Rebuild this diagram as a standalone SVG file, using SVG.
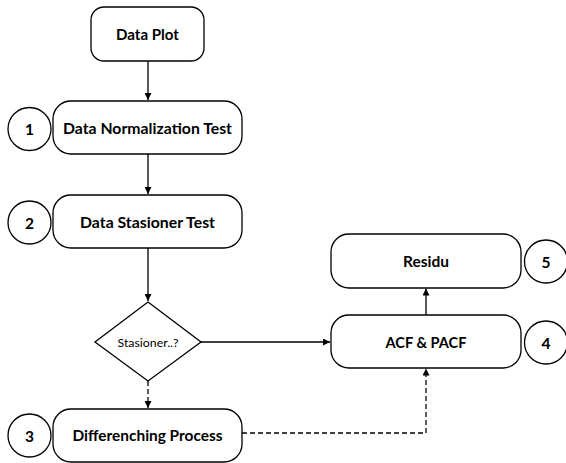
<svg xmlns="http://www.w3.org/2000/svg" width="566" height="463" viewBox="0 0 566 463">
  <style>
    .box { fill: #ffffff; stroke: #000000; stroke-width: 1.3; }
    .lbl { font-family: Lato, "Liberation Sans", sans-serif; font-weight: bold; font-size: 15.5px; fill: #000000; text-anchor: middle; dominant-baseline: central; }
    .small { font-family: Lato, "Liberation Sans", sans-serif; font-size: 12px; fill: #000000; text-anchor: middle; dominant-baseline: central; }
    .edge { fill: none; stroke: #000000; stroke-width: 1.3; }
    .dash { stroke-dasharray: 5 3; }
  </style>
  <defs>
    <marker id="arrow" viewBox="0 0 10 10" refX="10" refY="5" markerWidth="7" markerHeight="7" markerUnits="userSpaceOnUse" orient="auto">
      <path d="M0,0 L10,5 L0,10 Z" fill="#000000"/>
    </marker>
  </defs>

  <rect width="566" height="463" fill="#ffffff"/>

  <!-- connectors -->
  <g id="connectors">
    <line class="edge" x1="148" y1="61" x2="148" y2="100" marker-end="url(#arrow)"/>
    <line class="edge" x1="148" y1="154" x2="148" y2="194" marker-end="url(#arrow)"/>
    <line class="edge" x1="148" y1="248" x2="148" y2="301" marker-end="url(#arrow)"/>
    <line class="edge dash" x1="148" y1="381" x2="148" y2="408" marker-end="url(#arrow)"/>
    <line class="edge" x1="201" y1="342" x2="330" y2="342" marker-end="url(#arrow)"/>
    <line class="edge" x1="426" y1="315" x2="426" y2="288.5" marker-end="url(#arrow)"/>
    <polyline class="edge dash" points="242,433 426,433 426,368.5" marker-end="url(#arrow)"/>
  </g>

  <g id="data-plot">
    <rect class="box" x="91" y="7" width="113" height="54" rx="13"/>
    <text class="lbl" x="147.5" y="34" textLength="63" lengthAdjust="spacingAndGlyphs">Data Plot</text>
  </g>

  <g id="normalization">
    <rect class="box" x="53" y="101" width="189" height="53" rx="18"/>
    <text class="lbl" x="147.5" y="128" textLength="169" lengthAdjust="spacingAndGlyphs">Data Normalization Test</text>
    <circle class="box" cx="29.5" cy="129" r="21.5"/>
    <text class="lbl" x="29.5" y="129">1</text>
  </g>

  <g id="stasioner-test">
    <rect class="box" x="53" y="195" width="189" height="53" rx="18"/>
    <text class="lbl" x="147.5" y="221.5" textLength="135" lengthAdjust="spacingAndGlyphs">Data Stasioner Test</text>
    <circle class="box" cx="29.5" cy="222.5" r="21.5"/>
    <text class="lbl" x="29.5" y="222.5">2</text>
  </g>

  <g id="decision">
    <polygon class="box" points="148,302 201,342 148,381 95,342"/>
    <text class="small" x="148" y="342" textLength="61" lengthAdjust="spacingAndGlyphs">Stasioner..?</text>
  </g>

  <g id="differencing">
    <rect class="box" x="53" y="409" width="189" height="53" rx="18"/>
    <text class="lbl" x="147.5" y="435" textLength="150" lengthAdjust="spacingAndGlyphs">Differenching Process</text>
    <circle class="box" cx="29.5" cy="435.5" r="21.5"/>
    <text class="lbl" x="29.5" y="435.5">3</text>
  </g>

  <g id="acf-pacf">
    <rect class="box" x="331" y="315" width="190" height="53" rx="18"/>
    <text class="lbl" x="426" y="341.5" textLength="81" lengthAdjust="spacingAndGlyphs">ACF &amp; PACF</text>
    <circle class="box" cx="546" cy="342.5" r="21.5"/>
    <text class="lbl" x="546" y="342.5">4</text>
  </g>

  <g id="residu">
    <rect class="box" x="331" y="234" width="190" height="54" rx="18"/>
    <text class="lbl" x="426" y="261" textLength="46" lengthAdjust="spacingAndGlyphs">Residu</text>
    <circle class="box" cx="546" cy="261.5" r="21.5"/>
    <text class="lbl" x="546" y="261.5">5</text>
  </g>
</svg>
